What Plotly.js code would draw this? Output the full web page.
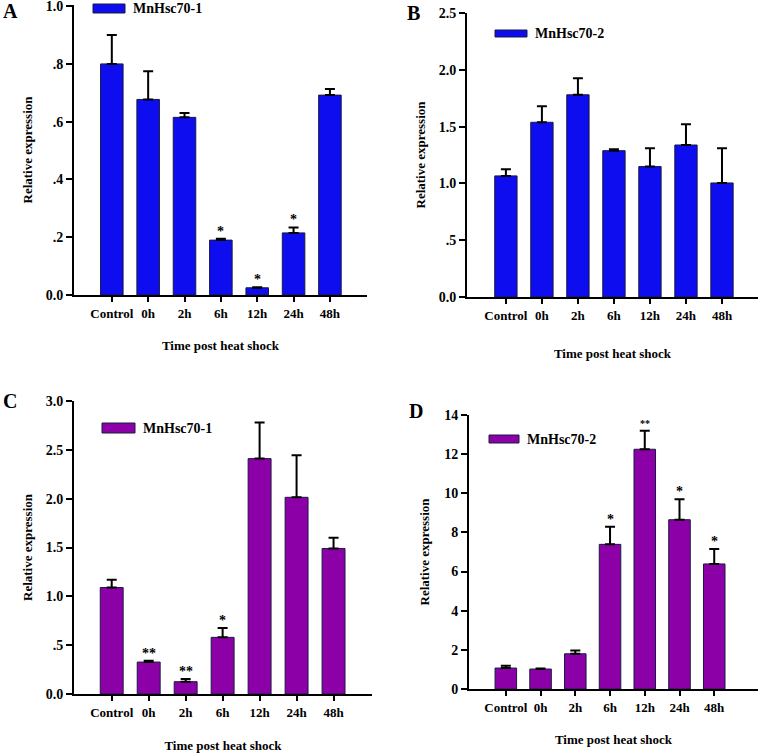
<!DOCTYPE html>
<html><head><meta charset="utf-8">
<script src="https://cdn.plot.ly/plotly-3.0.1.min.js"></script>
<style>html,body{margin:0;padding:0;background:#fff}#chart{width:761px;height:753px}</style>
</head><body><div id="chart"></div>
<script>
const categories = ['Control','0h','2h','6h','12h','24h','48h'];
const panelLetters = ['A','B','C','D'];
const seriesNames = ['MnHsc70-1','MnHsc70-2','MnHsc70-1','MnHsc70-2'];

const valuesA = [0.80, 0.677, 0.615, 0.19, 0.025, 0.215, 0.692];
const errA    = [0.10, 0.098, 0.015, 0.005, 0.002, 0.019, 0.021];
const sigA    = ['', '', '', '*', '*', '*', ''];

const valuesB = [1.066, 1.538, 1.78, 1.288, 1.148, 1.338, 1.004];
const errB    = [0.059, 0.142, 0.145, 0.012, 0.162, 0.182, 0.306];
const sigB    = ['', '', '', '', '', '', ''];

const valuesC = [1.09, 0.327, 0.126, 0.58, 2.41, 2.014, 1.49];
const errC    = [0.08, 0.013, 0.028, 0.095, 0.37, 0.43, 0.11];
const sigC    = ['', '**', '**', '*', '', '', ''];

const valuesD = [1.07, 1.02, 1.80, 7.39, 12.25, 8.65, 6.39];
const errD    = [0.12, 0.03, 0.17, 0.90, 0.95, 1.05, 0.76];
const sigD    = ['', '', '', '*', '**', '*', '*'];

const tickValsA = [0, 0.2, 0.4, 0.6, 0.8, 1.0];
const tickTextA = ['0.0', '.2', '.4', '.6', '.8', '1.0'];
const tickValsB = [0, 0.5, 1.0, 1.5, 2.0, 2.5];
const tickTextB = ['0.0', '.5', '1.0', '1.5', '2.0', '2.5'];
const tickValsC = [0, 0.5, 1.0, 1.5, 2.0, 2.5, 3.0];
const tickTextC = ['0.0', '.5', '1.0', '1.5', '2.0', '2.5', '3.0'];
const tickValsD = [0, 2, 4, 6, 8, 10, 12, 14];
const tickTextD = ['0', '2', '4', '6', '8', '10', '12', '14'];

const xTitle = 'Time post heat shock';
const yTitle = 'Relative expression';

const W = 761, H = 753;
const FONT = '"Liberation Serif", "Times New Roman", serif';
const BLUE = '#0d0def', PURPLE = '#8c00a8';

// panel layout in pixels
const panels = [
  {vals: valuesA, err: errA, sig: sigA, tv: tickValsA, tt: tickTextA, yr: [0, 1.004], color: BLUE,
   px: [74, 367], py: [295, 5], xr: [-1.04, 7.02], ytStand: 10, xtStand: 21,
   leg: [93, 4, 125, 13], letter: [10, 11]},
  {vals: valuesB, err: errB, sig: sigB, tv: tickValsB, tt: tickTextB, yr: [0, 2.5], color: BLUE,
   px: [467, 758], py: [297, 13], xr: [-1.08, 7.0], ytStand: 10, xtStand: 27,
   leg: [495, 30, 527, 37], letter: [414, 13]},
  {vals: valuesC, err: errC, sig: sigC, tv: tickValsC, tt: tickTextC, yr: [0, 3.0], color: PURPLE,
   px: [74, 372], py: [694, 401], xr: [-1.02, 7.04], ytStand: 10, xtStand: 26,
   leg: [102, 423, 135, 433], letter: [10, 401]},
  {vals: valuesD, err: errD, sig: sigD, tv: tickValsD, tt: tickTextD, yr: [0, 14], color: PURPLE,
   px: [469, 758], py: [689, 415], xr: [-1.06, 7.26], ytStand: 12, xtStand: 21,
   leg: [489, 435, 519, 443], letter: [416, 411]}
];

const data = [];
const layout = {
  width: W, height: H, margin: {l: 0, r: 0, t: 0, b: 0},
  paper_bgcolor: '#fff', plot_bgcolor: '#fff', showlegend: false,
  font: {family: FONT, color: '#000', size: 13, weight: 'bold'},
  annotations: [], shapes: []
};

panels.forEach((p, i) => {
  const n = i + 1;
  const xa = n === 1 ? 'x' : 'x' + n, ya = n === 1 ? 'y' : 'y' + n;
  const xk = n === 1 ? 'xaxis' : 'xaxis' + n, yk = n === 1 ? 'yaxis' : 'yaxis' + n;
  data.push({
    type: 'bar', x: categories, y: p.vals, name: seriesNames[i], xaxis: xa, yaxis: ya,
    width: 0.62,
    marker: {color: p.color, line: {color: '#1a1a40', width: 1}},
    error_y: {type: 'data', symmetric: false, array: p.err, arrayminus: p.err.map(() => 0),
              color: '#000', thickness: 2, width: 5},
    hoverinfo: 'x+y'
  });
  layout[xk] = {
    domain: [p.px[0] / W, p.px[1] / W], anchor: ya, type: 'category',
    range: p.xr, showline: true, linecolor: '#000', linewidth: 2,
    ticks: 'outside', ticklen: 5, tickwidth: 2, tickcolor: '#000',
    showgrid: false, zeroline: false, fixedrange: true,
    tickfont: {family: FONT, size: 13, color: '#000', weight: 'bold'},
    ticklabelstandoff: 0,
    title: {text: xTitle, font: {family: FONT, size: 13, color: '#000', weight: 'bold'}, standoff: p.xtStand}
  };
  layout[yk] = {
    domain: [1 - p.py[0] / H, 1 - p.py[1] / H], anchor: xa,
    range: p.yr, tickvals: p.tv, ticktext: p.tt,
    showline: true, linecolor: '#000', linewidth: 2,
    ticks: 'outside', ticklen: 6, tickwidth: 2, tickcolor: '#000',
    showgrid: false, zeroline: false, fixedrange: true, ticklabeloverflow: 'allow',
    tickfont: {family: FONT, size: 14, color: '#000', weight: 'bold'},
    title: {text: yTitle, font: {family: FONT, size: 13, color: '#000', weight: 'bold'}, standoff: p.ytStand}
  };
  // significance marks
  p.sig.forEach((s, j) => {
    if (!s) return;
    const small = (s === '**' && i === 3);
    layout.annotations.push({
      xref: xa, yref: ya, x: categories[j], y: p.vals[j] + p.err[j],
      text: s, showarrow: false, yanchor: 'bottom', yshift: small ? 0 : -2,
      font: {family: FONT, size: small ? 10 : 14, color: '#000', weight: 'bold'}
    });
  });
  // legend swatch and label
  layout.shapes.push({
    type: 'rect', xref: 'paper', yref: 'paper',
    x0: p.leg[0] / W, x1: p.leg[2] / W, y0: 1 - p.leg[3] / H, y1: 1 - p.leg[1] / H,
    fillcolor: p.color, line: {color: '#1a1a40', width: 1}
  });
  layout.annotations.push({
    xref: 'paper', yref: 'paper', x: (p.leg[2] + 6) / W, y: 1 - (p.leg[1] + p.leg[3]) / 2 / H,
    xanchor: 'left', yanchor: 'middle', showarrow: false, text: seriesNames[i],
    font: {family: FONT, size: 14, color: '#000', weight: 'bold'}
  });
  // panel letter
  layout.annotations.push({
    xref: 'paper', yref: 'paper', x: p.letter[0] / W, y: 1 - p.letter[1] / H,
    xanchor: 'center', yanchor: 'middle', showarrow: false, text: panelLetters[i],
    font: {family: FONT, size: 20, color: '#000', weight: 'bold'}
  });
});

Plotly.newPlot('chart', data, layout, {displayModeBar: false, staticPlot: true});
</script>
</body></html>
